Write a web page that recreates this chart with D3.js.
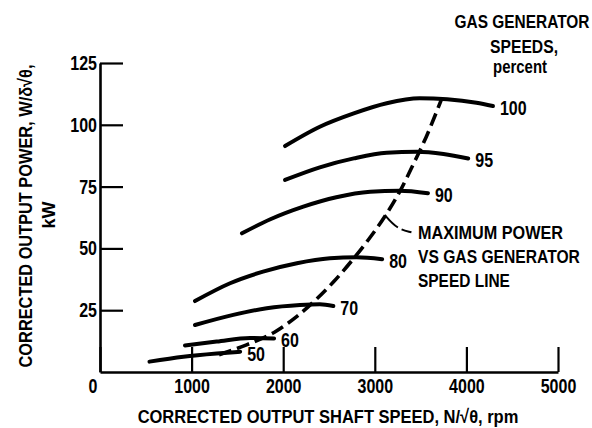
<!DOCTYPE html>
<html>
<head>
<meta charset="utf-8">
<script src="https://cdn.jsdelivr.net/npm/d3@7"></script>
<style>
  body { margin: 0; background: #fff; }
  svg { display: block; }
  text { font-family: "Liberation Sans", Arial, "DejaVu Sans", sans-serif; font-weight: bold; fill: #000; }
</style>
</head>
<body>
<svg id="chart" width="592" height="428"></svg>
<script>
// gas generator speed curves, [rpm, kW]
var curve100 = [[2020, 91.4], [2400, 99.2], [2770, 104.6], [3130, 108.7], [3490, 110.7], [3790, 110.3], [4110, 108.9], [4290, 107.6]];
var curve95 = [[2020, 77.7], [2400, 82.8], [2770, 86.4], [3130, 88.7], [3460, 89.1], [3750, 88.2], [4020, 86.4]];
var curve90 = [[1550, 56.1], [1860, 61.8], [2220, 66.9], [2580, 70.7], [2950, 72.9], [3270, 73.3], [3580, 72.3]];
var curve80 = [[1037, 28.7], [1420, 35.9], [1780, 40.6], [2150, 44.0], [2510, 46.0], [2800, 46.4], [3080, 45.6]];
var curve70 = [[1037, 19.0], [1455, 23.1], [1820, 25.8], [2183, 27.1], [2400, 27.4], [2547, 26.7]];
var curve60 = [[928, 10.7], [1274, 12.3], [1638, 13.8], [1900, 13.6]];
var curve50 = [[540, 4.2], [910, 6.2], [1274, 7.5], [1530, 8.2]];
var speedLabels = ["100", "95", "90", "80", "70", "60", "50"];

// maximum power vs gas generator speed line
var maxPower = [[1300, 7], [1600, 11], [1900, 16], [2150, 22.5], [2350, 29], [2550, 36.5], [2760, 45.5],
  [2950, 54.5], [3120, 63.5], [3280, 73.5], [3420, 84], [3560, 95], [3730, 110.5]];
var leader = [[3110, 63.5], [3240, 58], [3400, 56.5]];

var xTicks = [0, 1000, 2000, 3000, 4000, 5000];
var yTicks = [25, 50, 75, 100, 125];
var noteLines = ["MAXIMUM POWER", "VS GAS GENERATOR", "SPEED LINE"];
var headLines = ["GAS GENERATOR", "SPEEDS,", "percent"];

var svg = d3.select("#chart");

var x = d3.scaleLinear().domain([0, 5000]).range([100, 558]);
var y = d3.scaleLinear().domain([0, 125]).range([372, 63]);

var line = d3.line()
  .x(function(d) { return x(d[0]); })
  .y(function(d) { return y(d[1]); })
  .curve(d3.curveMonotoneX);

// squeeze a text horizontally (the scan uses a condensed face)
function squeeze(sel, px, py, sx) {
  sel.attr("x", null).attr("y", null)
    .attr("transform", "translate(" + px + "," + py + ") scale(" + sx + ",1)");
}
// squeeze a text so it spans the given width
function fitWidth(sel, px, py, w) {
  var n = sel.node().getComputedTextLength();
  squeeze(sel, px, py, Math.min(1, w / n));
}

// axes, ticks pointing inward
var gx = svg.append("g")
  .attr("transform", "translate(0," + y(0) + ")")
  .call(d3.axisBottom(x).tickValues(xTicks).tickFormat(d3.format("d"))
    .tickSizeInner(-25).tickSizeOuter(0).tickPadding(8));
var gy = svg.append("g")
  .attr("transform", "translate(" + x(0) + ",0)")
  .call(d3.axisLeft(y).tickValues(yTicks).tickSizeInner(-23).tickSizeOuter(0).tickPadding(4));

[gx, gy].forEach(function(g) {
  g.attr("font-family", null).attr("font-size", null);
  g.select(".domain").attr("stroke-width", 2.6);
  g.selectAll(".tick line").attr("stroke-width", 2.2);
  g.selectAll(".tick text").style("font-size", "20px");
});
gx.selectAll(".tick text").each(function(d) {
  squeeze(d3.select(this), d === 0 ? -3 : 0, 7, 0.8);
});
gx.selectAll(".tick").filter(function(d) { return d === 0; })
  .select("text").attr("text-anchor", "end");
gy.selectAll(".tick text").each(function() {
  squeeze(d3.select(this), -3, 0, 0.8);
});

// curves
var curves = [curve100, curve95, curve90, curve80, curve70, curve60, curve50];
svg.append("g").selectAll("path")
  .data(curves)
  .join("path")
  .attr("d", line)
  .attr("fill", "none")
  .attr("stroke", "#000")
  .attr("stroke-width", 4)
  .attr("stroke-linecap", "round");

svg.append("g").selectAll("text")
  .data(curves)
  .join("text")
  .style("font-size", "20px")
  .text(function(d, i) { return speedLabels[i]; })
  .each(function(d) {
    var e = d[d.length - 1];
    squeeze(d3.select(this), x(e[0]) + 7, y(e[1]) + 9, 0.8);
  });

svg.append("path")
  .attr("d", line(maxPower))
  .attr("fill", "none")
  .attr("stroke", "#000")
  .attr("stroke-width", 3.6)
  .attr("stroke-dasharray", "13,6");

svg.append("path")
  .attr("d", d3.line().x(function(d) { return x(d[0]); }).y(function(d) { return y(d[1]); }).curve(d3.curveBasis)(leader))
  .attr("fill", "none")
  .attr("stroke", "#000")
  .attr("stroke-width", 2)
  .attr("stroke-dasharray", "18,4,12");

// annotation and header
var noteLen = [145, 162, 92];
svg.append("g").selectAll("text")
  .data(noteLines)
  .join("text")
  .style("font-size", "19px")
  .text(function(d) { return d; })
  .each(function(d, i) { fitWidth(d3.select(this), 418, 239 + i * 24, noteLen[i]); });

var headX = [522, 524, 520], headY = [28, 53, 73], headLen = [135, 68, 54];
svg.append("g").selectAll("text")
  .data(headLines)
  .join("text")
  .attr("text-anchor", "middle")
  .style("font-size", "18px")
  .text(function(d) { return d; })
  .each(function(d, i) { fitWidth(d3.select(this), headX[i], headY[i], headLen[i]); });

// axis titles
var xTitle = svg.append("text")
  .attr("text-anchor", "middle")
  .style("font-size", "19px")
  .text("CORRECTED OUTPUT SHAFT SPEED, N/\u221A\u03B8, rpm");
fitWidth(xTitle, 328, 423, 381);

var yTitle = svg.append("text")
  .attr("text-anchor", "middle")
  .style("font-size", "19px")
  .text("CORRECTED OUTPUT POWER, W/\u03B4\u221A\u03B8,");
var yLen = yTitle.node().getComputedTextLength();
yTitle.attr("transform", "translate(32,216) rotate(-90) scale(" + Math.min(1, 303 / yLen) + ",1)");

svg.append("text")
  .attr("transform", "translate(55,215) rotate(-90)")
  .attr("text-anchor", "middle")
  .style("font-size", "18px")
  .text("kW");
</script>
</body>
</html>
